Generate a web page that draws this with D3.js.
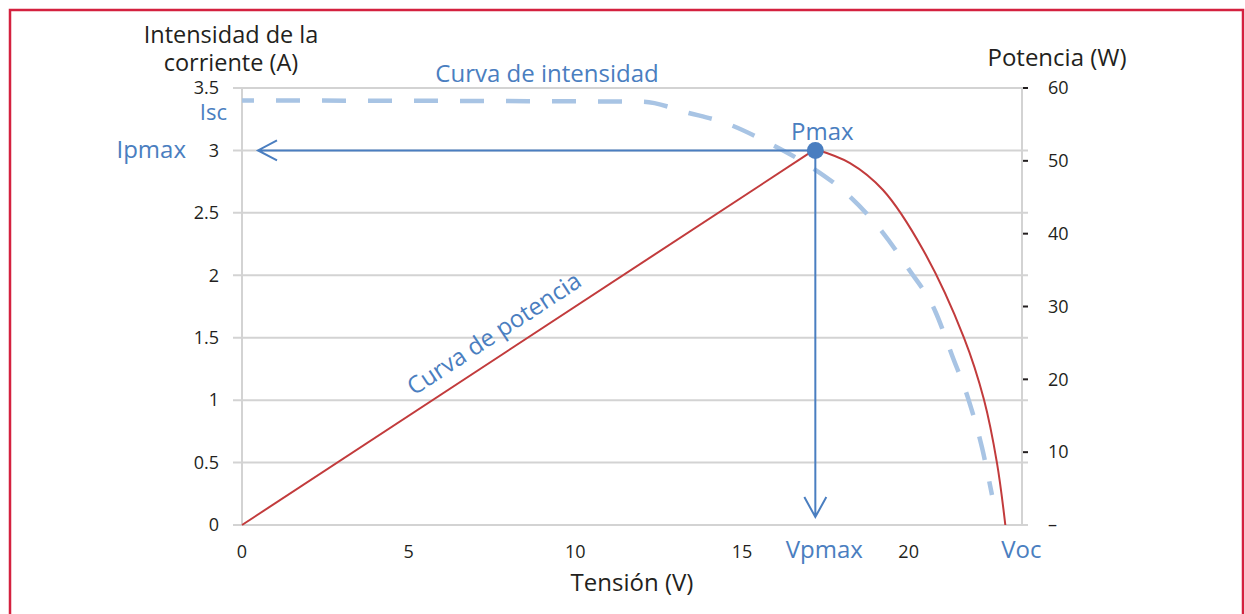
<!DOCTYPE html>
<html>
<head>
<meta charset="utf-8">
<script src="https://cdn.jsdelivr.net/npm/d3@7/dist/d3.min.js"></script>
<style>
  html, body { margin: 0; padding: 0; background: #fff; }
  svg { display: block; }
  text { font-family: "Open Sans", "Noto Sans", sans-serif; }
</style>
</head>
<body>
<svg id="chart" width="1245" height="614"></svg>
<script>
// Axis ticks
const xTicks = [0, 5, 10, 15, 20];
const currentTicks = [0, 0.5, 1, 1.5, 2, 2.5, 3, 3.5];
const powerTicks = [0, 10, 20, 30, 40, 50, 60];
const powerTickLabels = ["–", "10", "20", "30", "40", "50", "60"];

// I–V curve (tension in V, current in A)
const ivVoltage = [0, 12.0, 13.4, 14.5, 15.8, 17.0, 18.2, 19.2, 20.0, 20.8, 21.3, 21.8, 22.2, 22.5];
const ivCurrent = [3.4, 3.39, 3.3, 3.22, 3.06, 2.88, 2.64, 2.35, 2.05, 1.71, 1.36, 1.0, 0.62, 0.24];

// P–V curve (tension in V, power in W)
const pvVoltage = [0, 17.2, 18.24, 19.23, 20.43, 21.66, 22.26, 22.65, 22.9];
const pvPower = [0, 51.6, 49.7, 46.0, 37.8, 25.7, 17.2, 8.5, 0];

// Maximum power point
const vpmax = 17.2;
const ipmax = 3.0;
const isc = 3.4;
const voc = 22.9;

const svg = d3.select("#chart");
const blue = "#4a7ec0";
const lightBlue = "#a8c4e4";
const red = "#c23b3c";
const grid = "#d3d3d3";
const ink = "#231f20";

// Frame
svg.append("rect")
  .attr("x", 10).attr("y", 10)
  .attr("width", 1233).attr("height", 620)
  .attr("fill", "none")
  .attr("stroke", "#d4213f")
  .attr("stroke-width", 2.5);

const x = d3.scaleLinear().domain([0, 23.4]).range([242, 1022]);
const yI = d3.scaleLinear().domain([0, 3.5]).range([525, 88]);
const yP = d3.scaleLinear().domain([0, 60]).range([525, 88]);

// Horizontal gridlines with left tick stubs
svg.append("g").selectAll("line")
  .data(currentTicks)
  .join("line")
  .attr("x1", 233).attr("x2", 1028)
  .attr("y1", d => yI(d)).attr("y2", d => yI(d))
  .attr("stroke", grid).attr("stroke-width", 2);

// Left and right frame lines of the plot
svg.append("line")
  .attr("x1", x(0)).attr("x2", x(0))
  .attr("y1", yI(3.5)).attr("y2", yI(0))
  .attr("stroke", grid).attr("stroke-width", 2);
svg.append("line")
  .attr("x1", x(23.4)).attr("x2", x(23.4))
  .attr("y1", yI(3.5)).attr("y2", yI(0))
  .attr("stroke", grid).attr("stroke-width", 2);

// Left axis labels
svg.append("g").selectAll("text")
  .data(currentTicks)
  .join("text")
  .attr("x", 219)
  .attr("y", d => yI(d))
  .attr("dy", "0.35em")
  .attr("text-anchor", "end")
  .attr("font-size", 18)
  .attr("fill", ink)
  .text(d => d);

// Bottom axis labels
svg.append("g").selectAll("text")
  .data(xTicks)
  .join("text")
  .attr("x", d => x(d))
  .attr("y", 552)
  .attr("dy", "0.35em")
  .attr("text-anchor", "middle")
  .attr("font-size", 18)
  .attr("fill", ink)
  .text(d => d);

// Right axis ticks and labels
svg.append("g").selectAll("line")
  .data(powerTicks.filter(d => d > 0))
  .join("line")
  .attr("x1", 1023).attr("x2", 1028)
  .attr("y1", d => yP(d)).attr("y2", d => yP(d))
  .attr("stroke", ink).attr("stroke-width", 2);
svg.append("g").selectAll("text")
  .data(powerTicks)
  .join("text")
  .attr("x", 1048)
  .attr("y", d => yP(d))
  .attr("dy", "0.35em")
  .attr("font-size", 18)
  .attr("fill", ink)
  .text((d, i) => powerTickLabels[i]);

// Axis titles
const leftTitle = svg.append("text")
  .attr("text-anchor", "middle")
  .attr("font-size", 23.5)
  .attr("fill", ink);
leftTitle.append("tspan").attr("x", 231).attr("y", 43).text("Intensidad de la");
leftTitle.append("tspan").attr("x", 231).attr("y", 71).text("corriente (A)");

svg.append("text")
  .attr("x", 1057).attr("y", 66)
  .attr("text-anchor", "middle")
  .attr("font-size", 24)
  .attr("fill", ink)
  .text("Potencia (W)");

svg.append("text")
  .attr("x", 632).attr("y", 591)
  .attr("text-anchor", "middle")
  .attr("font-size", 24)
  .attr("fill", ink)
  .text("Tensión (V)");

// I–V curve, dashed
const ivData = ivVoltage.map((v, i) => [v, ivCurrent[i]]);
svg.append("path")
  .datum(ivData)
  .attr("d", d3.line().x(d => x(d[0])).y(d => yI(d[1])).curve(d3.curveMonotoneX))
  .attr("fill", "none")
  .attr("stroke", lightBlue)
  .attr("stroke-width", 4.5)
  .attr("stroke-dasharray", "24 22")
  .attr("stroke-dashoffset", 12);

// P–V curve: straight rise to the maximum, then a smooth fall to Voc
const pvData = pvVoltage.map((v, i) => [v, pvPower[i]]);
const pvLine = d3.line().x(d => x(d[0])).y(d => yP(d[1]));
svg.append("path")
  .datum(pvData.slice(0, 2))
  .attr("d", pvLine.curve(d3.curveLinear))
  .attr("fill", "none").attr("stroke", red).attr("stroke-width", 2);
svg.append("path")
  .datum(pvData.slice(1))
  .attr("d", pvLine.curve(d3.curveCatmullRom.alpha(0.5)))
  .attr("fill", "none").attr("stroke", red).attr("stroke-width", 2);

// Projections from the maximum power point with open arrowheads
const px = x(vpmax), py = yI(ipmax);
const arrowX = x(0) + 16;
const arrowY = yI(0) - 8;
svg.append("path")
  .attr("d", `M${px},${py}H${arrowX}M${arrowX + 19},${py - 10}L${arrowX},${py}L${arrowX + 19},${py + 10}`)
  .attr("fill", "none").attr("stroke", blue).attr("stroke-width", 2);
svg.append("path")
  .attr("d", `M${px},${py}V${arrowY}M${px - 11},${arrowY - 20}L${px},${arrowY}L${px + 11},${arrowY - 20}`)
  .attr("fill", "none").attr("stroke", blue).attr("stroke-width", 2);

svg.append("circle")
  .attr("cx", px).attr("cy", py).attr("r", 8.5)
  .attr("fill", blue);

// Blue annotations
function note(txt, xx, yy, anchor, size) {
  return svg.append("text")
    .attr("x", xx).attr("y", yy)
    .attr("dy", "0.35em")
    .attr("text-anchor", anchor)
    .attr("font-size", size)
    .attr("fill", blue)
    .text(txt);
}
note("Curva de intensidad", 547, 74, "middle", 24);
note("Isc", 227, yI(isc) + 12, "end", 22);
note("Ipmax", 186, yI(ipmax) - 1, "end", 24);
note("Pmax", px + 7, py - 19, "middle", 24);
note("Vpmax", px + 9, 550, "middle", 24);
note("Voc", x(voc) + 16, 550, "middle", 24);

const angle = Math.atan2(yP(pvPower[1]) - yP(0), x(pvVoltage[1]) - x(0)) * 180 / Math.PI;
svg.append("text")
  .attr("transform", `translate(414,396) rotate(${angle})`)
  .attr("font-size", 24)
  .attr("fill", blue)
  .text("Curva de potencia");
</script>
</body>
</html>
